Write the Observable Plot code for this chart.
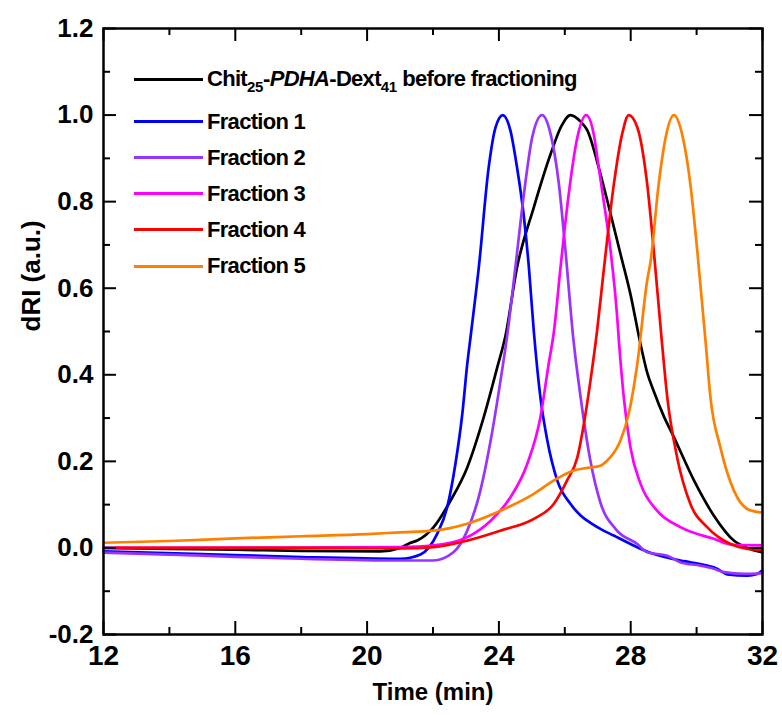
<!DOCTYPE html>
<html>
<head>
<meta charset="utf-8">
<script src="https://cdn.jsdelivr.net/npm/d3@7"></script>
<script src="https://cdn.jsdelivr.net/npm/@observablehq/plot@0.6"></script>
<style>
  html, body { margin: 0; padding: 0; background: #fff; }
  #wrap { position: relative; width: 782px; height: 715px; font-family: "Liberation Sans", Arial, sans-serif; font-weight: bold; }
  .row { position: absolute; left: 134px; height: 30px; display: flex; align-items: center; font-size: 22px; letter-spacing: -0.7px; color: #000; white-space: nowrap; }
  .sw { width: 69px; height: 3px; margin-right: 4px; }
  sub { font-size: 15px; vertical-align: -6px; line-height: 0; letter-spacing: -0.3px; }
</style>
</head>
<body>
<div id="wrap"></div>
<script>
// ---- data (time in min, dRI in a.u.) ----
const seriesNames = ["before", "Fraction 1", "Fraction 2", "Fraction 3", "Fraction 4", "Fraction 5"];
const seriesColors = ["#000000", "#0000ff", "#9933ff", "#ff00ff", "#ff0000", "#ff8000"];

const beforeFrac = [[12,0.0],[14,-0.002],[16,-0.004],[18,-0.007],[20.4,-0.008],[21.0,0.0],[21.32,0.012],[21.52,0.017],[22.02,0.048],[22.53,0.109],[23.04,0.186],[23.54,0.302],[23.95,0.417],[24.2,0.49],[24.55,0.648],[25.06,0.787],[25.57,0.91],[25.9,0.975],[26.17,1.0],[26.48,0.985],[26.68,0.965],[27.08,0.864],[27.29,0.802],[27.69,0.679],[27.99,0.587],[28.3,0.47],[28.5,0.405],[28.7,0.362],[29.0,0.305],[29.31,0.256],[29.92,0.156],[30.52,0.075],[31.13,0.017],[31.54,0.0],[31.99,-0.01]];

const fraction1 = [[12,-0.008],[15,-0.014],[18,-0.021],[21.0,-0.025],[21.62,-0.015],[22.13,0.033],[22.43,0.094],[22.68,0.194],[22.89,0.31],[23.04,0.425],[23.16,0.5],[23.39,0.648],[23.69,0.879],[23.9,0.972],[24.12,1.0],[24.35,0.964],[24.55,0.879],[24.76,0.764],[24.91,0.648],[25.06,0.5],[25.26,0.348],[25.47,0.248],[25.77,0.156],[26.17,0.102],[26.48,0.075],[26.68,0.063],[27.08,0.044],[27.5,0.028],[28.55,-0.01],[29.51,-0.029],[29.81,-0.033],[30.32,-0.041],[30.62,-0.048],[30.93,-0.061],[31.54,-0.064],[31.84,-0.06],[31.99,-0.052]];

const fraction2 = [[12,-0.011],[15,-0.018],[18,-0.025],[21.0,-0.029],[22.0,-0.029],[22.62,-0.01],[23.04,0.04],[23.44,0.133],[23.75,0.248],[24.05,0.387],[24.25,0.49],[24.5,0.648],[24.76,0.818],[25.01,0.948],[25.31,1.0],[25.57,0.956],[25.82,0.841],[26.02,0.687],[26.25,0.49],[26.48,0.348],[26.78,0.2],[27.08,0.105],[27.55,0.043],[28.2,0.009],[28.5,-0.01],[29.11,-0.018],[29.5,-0.033],[30.12,-0.041],[30.52,-0.048],[30.83,-0.056],[31.43,-0.06],[31.99,-0.058]];

const fraction3 = [[12,0.0],[18,0.001],[21.0,0.002],[22.02,0.006],[23.04,0.025],[23.75,0.063],[24.35,0.117],[24.86,0.194],[25.26,0.302],[25.51,0.425],[25.67,0.5],[25.87,0.648],[26.12,0.818],[26.38,0.948],[26.65,1.0],[26.88,0.955],[27.0,0.895],[27.18,0.802],[27.39,0.687],[27.59,0.533],[27.64,0.48],[27.79,0.348],[27.99,0.233],[28.3,0.148],[28.8,0.086],[29.51,0.048],[30.52,0.021],[31.13,0.007],[31.99,0.006]];

const fraction4 = [[12.36,0.0],[18,0.0],[21.0,-0.001],[22.02,0.002],[23.04,0.017],[24.05,0.04],[25.06,0.067],[25.67,0.102],[26.07,0.156],[26.38,0.209],[26.58,0.287],[26.78,0.387],[26.98,0.502],[27.18,0.64],[27.49,0.841],[27.74,0.956],[27.94,1.0],[28.2,0.972],[28.5,0.841],[28.7,0.687],[28.93,0.49],[29.11,0.348],[29.41,0.209],[29.81,0.102],[30.32,0.048],[31.03,0.009],[31.54,-0.002],[31.99,-0.004]];

const fraction5 = [[12,0.012],[14,0.016],[16,0.022],[18,0.027],[20,0.032],[21.0,0.036],[22.02,0.04],[23.04,0.056],[24.05,0.086],[25.06,0.125],[25.67,0.156],[26.27,0.179],[26.7,0.185],[27.08,0.19],[27.29,0.202],[27.69,0.248],[27.94,0.31],[28.2,0.425],[28.5,0.618],[28.6,0.66],[28.85,0.841],[29.06,0.948],[29.31,1.0],[29.56,0.956],[29.81,0.841],[30.02,0.687],[30.27,0.479],[30.42,0.348],[30.72,0.233],[31.13,0.133],[31.54,0.09],[31.94,0.082]];

const xMajorTicks = [12, 16, 20, 24, 28, 32];
const xMinorTicks = [14, 18, 22, 26, 30];
const yMajorTicks = [-0.2, 0.0, 0.2, 0.4, 0.6, 0.8, 1.0, 1.2];
const yMinorTicks = [-0.1, 0.1, 0.3, 0.5, 0.7, 0.9, 1.1];

const xTitle = "Time (min)";
const yTitle = "dRI (a.u.)";

// ---- build ----
const allSeries = [beforeFrac, fraction1, fraction2, fraction3, fraction4, fraction5];
const W = 782, H = 715, mL = 103, mR = 20, mT = 28, mB = 81;
const FH = H - mT - mB, FW = W - mL - mR;
const MAJ = 13, MIN = 7;

const lineMarks = allSeries.map((s, i) =>
  Plot.line(s.map(([t, v]) => ({t, v})), {x: "t", y: "v", stroke: seriesColors[i], strokeWidth: 2.7, curve: "monotone-x"})
);

const chart = Plot.plot({
  width: W, height: H,
  marginLeft: mL, marginRight: mR, marginTop: mT, marginBottom: mB,
  x: {domain: [12, 32]},
  y: {domain: [-0.2, 1.2]},
  style: {fontFamily: '"Liberation Sans", Arial, sans-serif', fontWeight: "bold", background: "white", color: "black"},
  marks: [
    ...lineMarks,
    Plot.frame({stroke: "black", strokeWidth: 2.5}),
    // bottom & top ticks
    Plot.tickX(xMajorTicks, {x: d => d, insetTop: FH - MAJ, strokeWidth: 2}),
    Plot.tickX(xMajorTicks, {x: d => d, insetBottom: FH - MAJ, strokeWidth: 2}),
    Plot.tickX(xMinorTicks, {x: d => d, insetTop: FH - MIN, strokeWidth: 2}),
    Plot.tickX(xMinorTicks, {x: d => d, insetBottom: FH - MIN, strokeWidth: 2}),
    // left & right ticks
    Plot.tickY(yMajorTicks, {y: d => d, insetRight: FW - MAJ, strokeWidth: 2}),
    Plot.tickY(yMajorTicks, {y: d => d, insetLeft: FW - MAJ, strokeWidth: 2}),
    Plot.tickY(yMinorTicks, {y: d => d, insetRight: FW - MIN, strokeWidth: 2}),
    Plot.tickY(yMinorTicks, {y: d => d, insetLeft: FW - MIN, strokeWidth: 2}),
    Plot.axisX(xMajorTicks, {tickSize: 0, tickPadding: 11, fontSize: 28, tickFormat: d => String(d), label: null, letterSpacing: -1}),
    Plot.axisY(yMajorTicks, {tickSize: 0, tickPadding: 10, fontSize: 26, tickFormat: d => d.toFixed(1), label: null, letterSpacing: -1}),
    Plot.text([xTitle], {frameAnchor: "bottom", dy: 65, fontSize: 24, fontWeight: "bold", text: d => d}),
    Plot.text([yTitle], {frameAnchor: "left", dx: -72, rotate: -90, fontSize: 26, fontWeight: "bold", text: d => d})
  ]
});

const wrap = document.getElementById("wrap");
wrap.appendChild(chart);

// legend overlay
const legendLabels = [
  'Chit<sub>25</sub>-<i>PDHA</i>-Dext<sub>41</sub> before fractioning',
  'Fraction 1', 'Fraction 2', 'Fraction 3', 'Fraction 4', 'Fraction 5'
];
const legendY = [79, 121.7, 157.5, 193.5, 229.8, 266];
legendLabels.forEach((lab, i) => {
  const row = document.createElement("div");
  row.className = "row";
  row.style.top = (legendY[i] - 15) + "px";
  row.innerHTML = `<div class="sw" style="background:${seriesColors[i]}"></div><span>${lab}</span>`;
  wrap.appendChild(row);
});
</script>
</body>
</html>
